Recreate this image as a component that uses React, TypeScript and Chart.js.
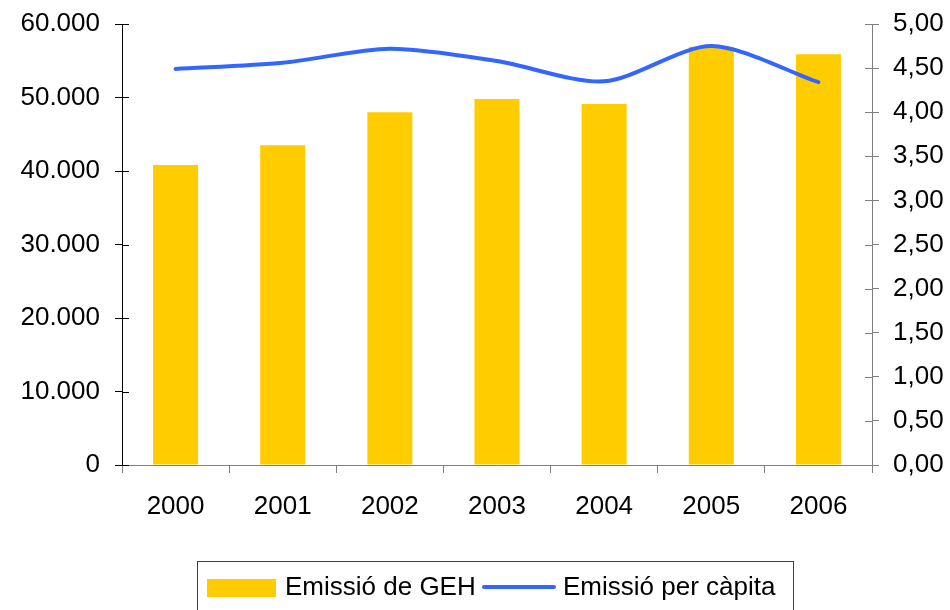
import React, { useEffect, useRef } from "react";
import { Chart, registerables } from "chart.js";

Chart.register(...registerables);

const categories = ["2000", "2001", "2002", "2003", "2004", "2005", "2006"];
const emissionsGEH = [40800, 43500, 48000, 49800, 49100, 56900, 55900];
const perCapita = [4.49, 4.56, 4.72, 4.58, 4.35, 4.75, 4.34];
const seriesNames = ["Emissió de GEH", "Emissió per càpita"];

const FONT = "'Liberation Sans', Arial, sans-serif";
const BAR_COLOR = "#FFCC00";
const LINE_COLOR = "#3366FF";

const fmtThousands = (v: number) => {
  if (v === 0) return "0";
  return Math.round(v).toString().replace(/\B(?=(\d{3})+(?!\d))/g, ".");
};
const fmtDec = (v: number) => v.toFixed(2).replace(".", ",");

const extrasPlugin = {
  id: "extras",
  afterDraw(chart: any) {
    const ctx = chart.ctx;
    const y = chart.scales.y;
    const y1 = chart.scales.y1;
    ctx.save();
    ctx.lineWidth = 1;
    ctx.strokeStyle = "#000";
    y.ticks.forEach((t: any) => {
      const py = Math.round(y.getPixelForValue(t.value)) + 0.5;
      ctx.beginPath();
      ctx.moveTo(y.right, py);
      ctx.lineTo(y.right + 7, py);
      ctx.stroke();
    });
    ctx.strokeStyle = "#808080";
    y1.ticks.forEach((t: any) => {
      const py = Math.round(y1.getPixelForValue(t.value)) + 0.5;
      ctx.beginPath();
      ctx.moveTo(y1.left - 7, py);
      ctx.lineTo(y1.left, py);
      ctx.stroke();
    });
    // legend
    const bx = 197.5, by = 561.5, bw = 596, bh = 60;
    ctx.strokeStyle = "#404040";
    ctx.strokeRect(bx, by, bw, bh);
    ctx.fillStyle = BAR_COLOR;
    ctx.fillRect(207, 579, 69, 18);
    ctx.font = `26px ${FONT}`;
    ctx.fillStyle = "#000";
    ctx.textBaseline = "middle";
    ctx.textAlign = "left";
    ctx.fillText(seriesNames[0], 285, 588);
    ctx.strokeStyle = LINE_COLOR;
    ctx.lineWidth = 4;
    ctx.lineCap = "round";
    ctx.beginPath();
    ctx.moveTo(484, 587);
    ctx.lineTo(554, 587);
    ctx.stroke();
    ctx.fillText(seriesNames[1], 563, 588);
    ctx.restore();
  },
};

export default function App() {
  const ref = useRef<HTMLCanvasElement | null>(null);
  useEffect(() => {
    if (!ref.current) return;
    const tickFont = { family: FONT, size: 26 };
    const chart = new Chart(ref.current, {
      type: "bar",
      data: {
        labels: categories,
        datasets: [
          {
            type: "line",
            label: seriesNames[1],
            data: perCapita,
            yAxisID: "y1",
            borderColor: LINE_COLOR,
            backgroundColor: LINE_COLOR,
            borderWidth: 4,
            pointRadius: 0,
            tension: 0.28,
            borderCapStyle: "round",
            order: 1,
          } as any,
          {
            type: "bar",
            label: seriesNames[0],
            data: emissionsGEH,
            yAxisID: "y",
            backgroundColor: BAR_COLOR,
            barPercentage: 0.42,
            categoryPercentage: 1,
            order: 2,
          },
        ],
      },
      options: {
        responsive: false,
        animation: false,
        devicePixelRatio: 1,
        layout: { padding: { top: 24, left: 0, right: 0, bottom: 0 } },
        plugins: { legend: { display: false }, tooltip: { enabled: false } },
        scales: {
          x: {
            grid: { drawOnChartArea: false, tickLength: 8, color: "#808080", offset: true },
            border: { color: "#808080" },
            ticks: { font: tickFont, color: "#000", padding: 18, maxRotation: 0 },
            afterFit: (s: any) => { s.height = 145; s.paddingLeft = 0; s.paddingRight = 0; },
          },
          y: {
            position: "left",
            min: 0,
            max: 60000,
            grid: { drawOnChartArea: false, tickLength: 7, color: "#000" },
            border: { color: "#000" },
            ticks: { stepSize: 10000, font: tickFont, color: "#000", padding: 15, callback: (v: any) => fmtThousands(Number(v)) },
            afterFit: (s: any) => { s.width = 122; s.paddingTop = 0; s.paddingBottom = 0; },
          },
          y1: {
            position: "right",
            min: 0,
            max: 5,
            grid: { drawOnChartArea: false, tickLength: 7, color: "#808080" },
            border: { color: "#808080" },
            ticks: { stepSize: 0.5, font: tickFont, color: "#000", padding: 14, callback: (v: any) => fmtDec(Number(v)) },
            afterFit: (s: any) => { s.width = 78; s.paddingTop = 0; s.paddingBottom = 0; },
          },
        },
      } as any,
      plugins: [extrasPlugin],
    });
    return () => chart.destroy();
  }, []);
  return (
    <div style={{ position: "fixed", left: 0, top: 0, width: 950, height: 610, background: "#fff" }}>
      <canvas ref={ref} width={950} height={610} />
    </div>
  );
}
